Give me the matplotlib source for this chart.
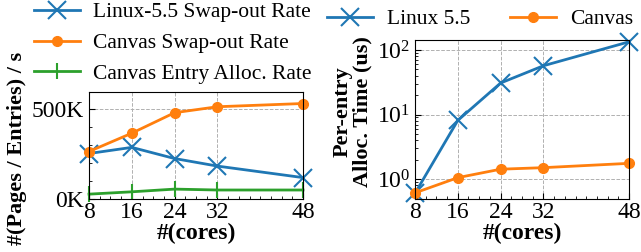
import numpy as np
import matplotlib.pyplot as plt
from matplotlib.ticker import FuncFormatter, MultipleLocator

plt.rcParams['font.family'] = ['Liberation Serif', 'DejaVu Serif']
plt.rcParams['mathtext.fontset'] = 'stix'

# data
cores = [8, 16, 24, 32, 48]
linux_swap = [253e3, 287e3, 225e3, 183e3, 119e3]
canvas_swap = [264e3, 366e3, 480e3, 513e3, 531e3]
canvas_entry = [27e3, 40e3, 55e3, 50e3, 50e3]

linux_alloc = [0.6, 8.1, 30.8, 57, 134]
canvas_alloc = [0.61, 1.05, 1.42, 1.5, 1.75]

blue = '#1f77b4'
orange = '#ff7f0e'
green = '#2ca02c'

W, H = 641, 252
fig = plt.figure(figsize=(6.41, 2.52), dpi=100)
ax1 = fig.add_axes([89 / W, 1 - 199 / H, 214 / W, 107 / H])
ax2 = fig.add_axes([415 / W, 1 - 199 / H, 214 / W, 159 / H])


def style(ax):
    ax.tick_params(direction='in', which='both', labelsize=17, top=False, right=False)
    ax.tick_params(which='major', length=4)
    ax.tick_params(which='minor', length=2)
    ax.tick_params(axis='x', pad=2)
    ax.grid(True, linestyle='--', color='#b0b0b0', linewidth=0.7)
    ax.set_xlim(8, 48)
    ax.set_xticks(cores)
    ax.xaxis.set_minor_locator(MultipleLocator(2))
    ax.set_xlabel('#(cores)', fontsize=17, fontweight='bold', labelpad=0)


# left: swap-out rates
ax1.plot(cores, linux_swap, color=blue, marker='x', markersize=13, mew=1.5, lw=2,
         label='Linux-5.5 Swap-out Rate', clip_on=False)
ax1.plot(cores, canvas_swap, color=orange, marker='o', markersize=7, lw=2,
         label='Canvas Swap-out Rate', clip_on=False)
ax1.plot(cores, canvas_entry, color=green, marker='|', markersize=12, mew=1.5, lw=2,
         label='Canvas Entry Alloc. Rate', clip_on=False)
style(ax1)
ax1.set_ylim(0, 595e3)
ax1.set_yticks([0, 500e3])
ax1.yaxis.set_minor_locator(MultipleLocator(100e3))
ax1.yaxis.set_major_formatter(FuncFormatter(lambda v, p: '%dK' % (v / 1e3)))
ax1.set_ylabel('#(Pages / Entries) / s', fontsize=16, fontweight='bold')
ax1.yaxis.set_label_coords(-0.29, 0.47)
fig.legend(*ax1.get_legend_handles_labels(), loc='upper left',
           bbox_to_anchor=(32 / W, 1.0), fontsize=15.5, frameon=False,
           handlelength=2.15, borderaxespad=0, borderpad=0.1, labelspacing=0.5,
           handletextpad=0.6)

# right: per-entry allocation time
ax2.plot(cores, linux_alloc, color=blue, marker='x', markersize=13, mew=1.5, lw=2,
         label='Linux 5.5', clip_on=False)
ax2.plot(cores, canvas_alloc, color=orange, marker='o', markersize=7, lw=2,
         label='Canvas', clip_on=False)
style(ax2)
ax2.set_yscale('log')
ax2.set_ylim(0.49, 143)
ax2.set_ylabel('Per-entry\nAlloc. Time (us)', fontsize=16, fontweight='bold',
               linespacing=0.95)
ax2.yaxis.set_label_coords(-0.2, 0.55)
fig.legend(*ax2.get_legend_handles_labels(), loc='upper left',
           bbox_to_anchor=(325 / W, 1 - 7 / H), ncol=2, fontsize=15.5,
           frameon=False, handlelength=2.15, borderaxespad=0, borderpad=0.1,
           columnspacing=1.8, handletextpad=0.65)

fig.savefig('out.png', dpi=100)
